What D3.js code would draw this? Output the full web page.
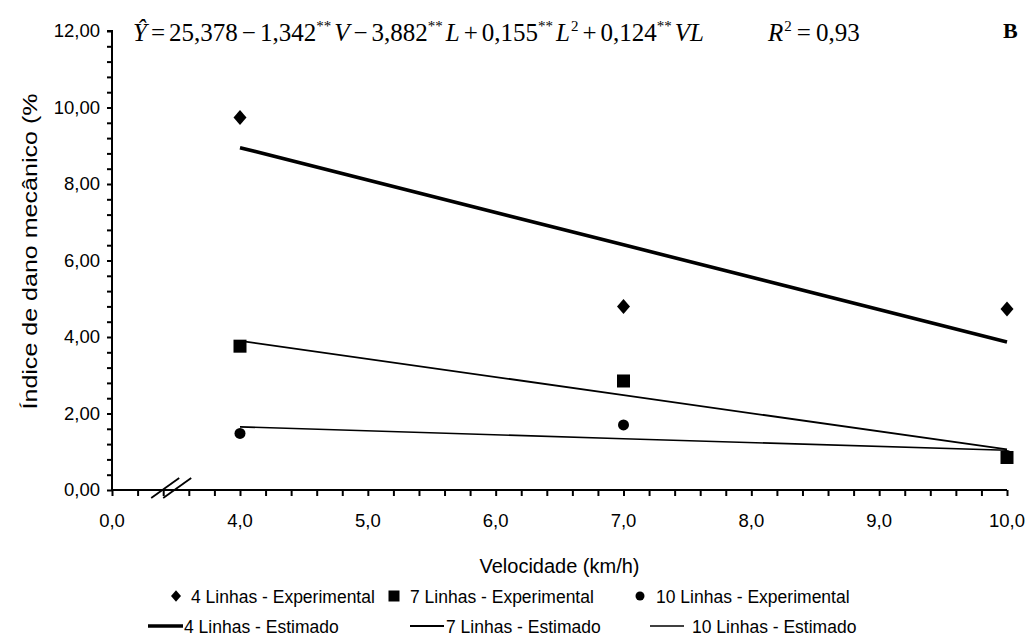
<!DOCTYPE html>
<html><head><meta charset="utf-8">
<script src="https://cdn.jsdelivr.net/npm/d3@7"></script>
<style>body{margin:0;background:#fff}svg{display:block}</style>
</head><body><svg id="c" width="1030" height="643"></svg>
<script>
// ---- data ----
const velocities = [4, 7, 10];
const exp4 = [9.74, 4.80, 4.73];
const exp7 = [3.76, 2.85, 0.85];
const exp10 = [1.48, 1.70, 0.90];
const est4 = [8.95, 6.41, 3.87];
const est7 = [3.90, 2.48, 1.06];
const est10 = [1.65, 1.34, 1.04];
const xTickValues = [0, 4, 5, 6, 7, 8, 9, 10];
const xTickLabels = ["0,0", "4,0", "5,0", "6,0", "7,0", "8,0", "9,0", "10,0"];
const yTickValues = [0, 2, 4, 6, 8, 10, 12];
const yTickLabels = ["0,00", "2,00", "4,00", "6,00", "8,00", "10,00", "12,00"];
const legendExp = ["4 Linhas - Experimental", "7 Linhas - Experimental", "10 Linhas - Experimental"];
const legendEst = ["4 Linhas - Estimado", "7 Linhas - Estimado", "10 Linhas - Estimado"];

const svg = d3.select("#c");
const sans = "'Liberation Sans', Arial, sans-serif";
const serif = "'Liberation Serif', 'Times New Roman', serif";
svg.append("rect").attr("width", 1030).attr("height", 643).attr("fill", "#fff");

// broken x axis: 0..4 compressed to one unit width
const x = d3.scaleLinear().domain([0, 4, 10]).range([112, 240, 1007]);
const y = d3.scaleLinear().domain([0, 12]).range([490, 31]);

// y axis
const yMinor = d3.range(0, 12.0001, 0.4);
const yAxis = d3.axisLeft(y).tickValues(yMinor).tickSize(5).tickFormat("");
const gy = svg.append("g").attr("transform", `translate(${x(0)},0)`).call(yAxis);
gy.select(".domain").attr("stroke", "#000").attr("stroke-width", 2).attr("d", `M-5,${y(12)}H0V${y(0)}`);
gy.selectAll(".tick line").attr("stroke", "#000").attr("stroke-width", 2);
svg.append("g").selectAll("text").data(yTickValues).join("text")
  .attr("x", x(0) - 12).attr("y", d => y(d)).attr("dy", "0.35em")
  .attr("text-anchor", "end").attr("font-family", sans).attr("font-size", 18.5)
  .text((d, i) => yTickLabels[i]);

// x axis
const xMinor = d3.range(0, 4.0001, 0.8).concat(d3.range(4.2, 10.0001, 0.2));
const xAxis = d3.axisBottom(x).tickValues(xMinor).tickSize(6).tickFormat("");
const gx = svg.append("g").attr("transform", `translate(0,${y(0)})`).call(xAxis);
gx.select(".domain").attr("stroke", "#000").attr("stroke-width", 2).attr("d", `M${x(0)},0H${x(10)}`);
gx.selectAll(".tick line").attr("stroke", "#000").attr("stroke-width", 2);
svg.append("g").selectAll("text").data(xTickValues).join("text")
  .attr("x", d => x(d)).attr("y", y(0) + 37)
  .attr("text-anchor", "middle").attr("font-family", sans).attr("font-size", 18.5)
  .text((d, i) => xTickLabels[i]);

// axis break marks
const bx = x(1.6);
[0, 12].forEach(off => {
  svg.append("line").attr("x1", bx - 12 + off).attr("y1", y(0) + 8).attr("x2", bx + 16 + off).attr("y2", y(0) - 12)
    .attr("stroke", "#000").attr("stroke-width", 1.8);
});

// titles
svg.append("text").attr("transform", `translate(37,${(y(0) + y(12)) / 2 - 9}) rotate(-90)`)
  .attr("text-anchor", "middle").attr("font-family", sans).attr("font-size", 21)
  .attr("textLength", 316).attr("lengthAdjust", "spacingAndGlyphs")
  .text("Índice de dano mecânico (%");
svg.append("text").attr("x", (x(0) + x(10)) / 2).attr("y", 573)
  .attr("text-anchor", "middle").attr("font-family", sans).attr("font-size", 20)
  .text("Velocidade (km/h)");

// estimated lines
const line = d3.line().x((d, i) => x(velocities[i])).y(d => y(d));
[[est4, 3.6], [est7, 1.8], [est10, 1.6]].forEach(([s, w]) => {
  svg.append("path").datum(s).attr("d", line).attr("fill", "none").attr("stroke", "#000").attr("stroke-width", w);
});

// markers
const diamond = (cx, cy, r) => `M${cx},${cy - r * 1.15}L${cx + r},${cy}L${cx},${cy + r * 1.15}L${cx - r},${cy}Z`;
svg.append("g").selectAll("path").data(exp4).join("path")
  .attr("d", (d, i) => diamond(x(velocities[i]), y(d), 6.5)).attr("fill", "#000");
svg.append("g").selectAll("rect").data(exp7).join("rect")
  .attr("x", (d, i) => x(velocities[i]) - 6.5).attr("y", d => y(d) - 6.5)
  .attr("width", 13).attr("height", 13).attr("fill", "#000");
svg.append("g").selectAll("circle").data(exp10).join("circle")
  .attr("cx", (d, i) => x(velocities[i])).attr("cy", d => y(d)).attr("r", 5.5).attr("fill", "#000");

// legend
const lg = svg.append("g").attr("font-family", sans).attr("font-size", 17.5);
const row1 = 597, row2 = 627;
const expMarkX = [176, 394, 640];
const expTextX = [191, 410, 656];
lg.append("path").attr("d", diamond(expMarkX[0], row1 - 1, 5)).attr("fill", "#000");
lg.append("rect").attr("x", expMarkX[1] - 5.5).attr("y", row1 - 6.5).attr("width", 11).attr("height", 11).attr("fill", "#000");
lg.append("circle").attr("cx", expMarkX[2]).attr("cy", row1 - 1).attr("r", 4.5).attr("fill", "#000");
legendExp.forEach((t, i) => lg.append("text").attr("x", expTextX[i]).attr("y", row1).attr("dy", "0.35em").text(t));
const estLineX = [[148, 183], [410, 444], [650, 684]];
const estTextX = [184, 446, 692];
const estW = [3.6, 1.8, 1.6];
legendEst.forEach((t, i) => {
  lg.append("line").attr("x1", estLineX[i][0]).attr("x2", estLineX[i][1]).attr("y1", row2 - 1).attr("y2", row2 - 1)
    .attr("stroke", "#000").attr("stroke-width", estW[i]);
  lg.append("text").attr("x", estTextX[i]).attr("y", row2).attr("dy", "0.35em").text(t);
});

// equation (tight equation-editor spacing via dx)
const eq = svg.append("text").attr("x", 133).attr("y", 41).attr("font-family", serif).attr("font-size", 25);
const segs = [
  ["Ŷ", "i", 0], ["=", "n", 4], ["25,378", "n", 4], ["−", "n", 4], ["1,342", "n", 4], ["**", "s", 0], ["V", "i", 3],
  ["−", "n", 4], ["3,882", "n", 4], ["**", "s", 0], ["L", "i", 3],
  ["+", "n", 4], ["0,155", "n", 4], ["**", "s", 0], ["L", "i", 3], ["2", "s", 1],
  ["+", "n", 4], ["0,124", "n", 4], ["**", "s", 0], ["VL", "i", 3]
];
segs.forEach(([t, k, g]) => {
  const ts = eq.append("tspan").text(t).attr("dx", g);
  if (k === "i") ts.attr("font-style", "italic");
  if (k === "s") ts.attr("font-size", 15).attr("baseline-shift", "10");
});
const eq2 = svg.append("text").attr("x", 768).attr("y", 41).attr("font-family", serif).attr("font-size", 25);
eq2.append("tspan").text("R").attr("font-style", "italic");
eq2.append("tspan").text("2").attr("font-size", 15).attr("baseline-shift", "10").attr("dx", 1);
eq2.append("tspan").text("=").attr("dx", 5);
eq2.append("tspan").text("0,93").attr("dx", 5);
svg.append("text").attr("x", 1003).attr("y", 38).attr("font-family", serif).attr("font-weight", "bold").attr("font-size", 22).text("B");
</script></body></html>
